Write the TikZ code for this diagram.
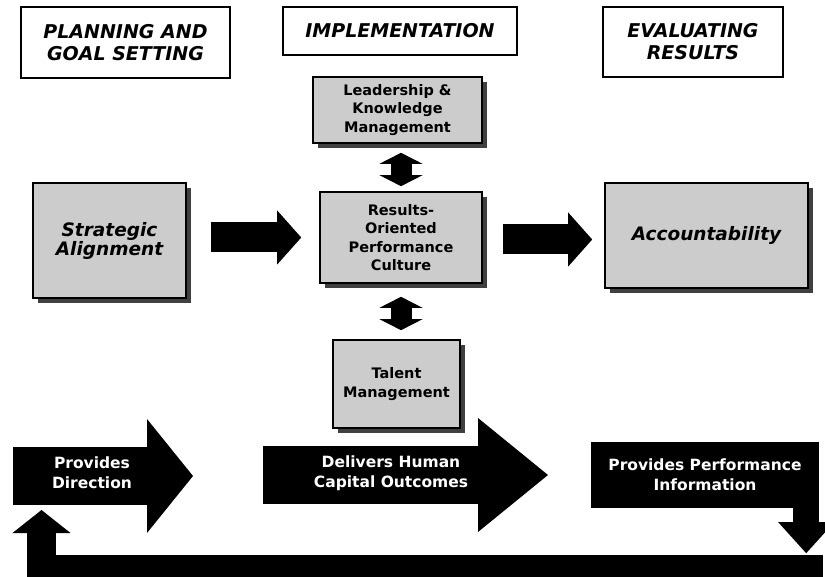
\documentclass[tikz,border=0pt]{standalone}
\usepackage{fontspec}
\setmainfont{DejaVu Sans}
\usetikzlibrary{arrows.meta,calc,shadows}

\begin{document}
\begin{tikzpicture}[x=1pt, y=-1pt,
    phase/.style={draw, line width=1.6pt, align=center, inner sep=0pt,
        font=\fontsize{19}{22}\selectfont\bfseries\itshape},
    panel/.style={draw, line width=1.6pt, fill=black!20, align=center, inner sep=0pt,
        drop shadow={shadow xshift=5pt, shadow yshift=-5pt, fill=black!75, opacity=1},
        font=\fontsize{14.5}{18.5}\selectfont\bfseries},
    bigpanel/.style={panel, font=\fontsize{18.5}{18}\selectfont\bfseries\itshape},
    flow/.style={line width=30pt, -{Triangle[length=24pt,width=54pt,line width=0pt]}},
    link/.style={line width=21pt,
        {Triangle[length=11pt,width=43pt,line width=0pt]}-{Triangle[length=11pt,width=43pt,line width=0pt]}},
    band/.style={line width=58pt, -{Triangle[length=#1,width=114pt,line width=0pt]}},
    bandtext/.style={text=white, align=center, inner sep=0pt,
        font=\fontsize{15.5}{20}\selectfont\bfseries}]
\useasboundingbox (0,0) rectangle (825,577);
% phase headings
\node[phase, minimum width=209, minimum height=71] (plan) at (125.5,42.5) {PLANNING AND\\GOAL SETTING};
\node[phase, minimum width=234, minimum height=48] (impl) at (400,31) {IMPLEMENTATION};
\node[phase, minimum width=180, minimum height=70] (eval) at (693,42) {EVALUATING\\RESULTS};
% boxes
\node[panel, minimum width=169, minimum height=66] (lead) at (397.5,110) {Leadership \&\\Knowledge\\Management};
\node[panel, minimum width=162, minimum height=91] (culture) at (401,237.5) {Results-\\Oriented\\Performance\\Culture};
\node[bigpanel, minimum width=153, minimum height=115] (strat) at (109.5,240.5) {Strategic\\Alignment};
\node[bigpanel, minimum width=203, minimum height=105] (acct) at (706.5,235.5) {Accountability};
\node[panel, minimum width=127, minimum height=88] (talent) at (396.5,384) {Talent\\Management};
% arrows between boxes
\draw[flow] ($(strat.east |- culture.west)+(24,0)$) -- ($(culture.west)+(-18,0)$);
\draw[flow] ($(culture.east)+(20,2)$) -- ($(acct.west |- culture.east)+(-12,2)$);
\draw[link] ($(lead.south -| culture.north)+(0,9)$) -- ($(culture.north)+(0,-5)$);
\draw[link] ($(culture.south)+(0,13)$) -- ($(culture.south |- talent.north)+(0,-9)$);
% bottom band
\draw[band=46pt] (13,476) -- (193,476);
\draw[band=70pt] (263,475) -- (548,475);
\node[bandtext] (dir) at (92,473) {Provides\\Direction};
\node[bandtext] (deliver) at (391,473) {Delivers Human\\Capital Outcomes};
\node[bandtext, fill=black, minimum width=228, minimum height=66] (perf) at (705,475) {Provides Performance\\Information};
\draw[line width=26pt, -{Triangle[length=31pt,width=56pt,line width=0pt]}] ($(perf.south east)+(-13,0)$) -- ++(0,45);
% feedback loop
\draw[line width=29pt, -{Triangle[length=23pt,width=58pt,line width=0pt]}] (823,569.5) -- (41.5,569.5) -- (41.5,510);
\end{tikzpicture}
\end{document}
